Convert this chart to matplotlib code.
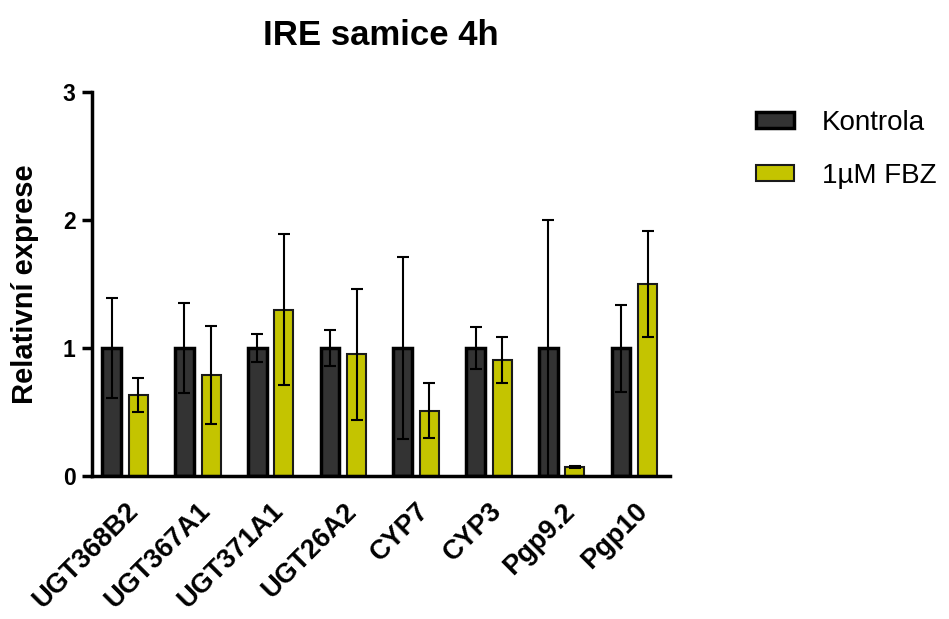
import numpy as np
import matplotlib
matplotlib.use("Agg")
import matplotlib.pyplot as plt

plt.rcParams['font.family'] = ['Liberation Sans', 'DejaVu Sans']

genes = ["UGT368B2", "UGT367A1", "UGT371A1", "UGT26A2", "CYP7", "CYP3", "Pgp9.2", "Pgp10"]
kontrola = [1.0, 1.0, 1.0, 1.0, 1.0, 1.0, 1.0, 1.0]
kontrola_err = [0.39, 0.35, 0.11, 0.14, 0.71, 0.165, 1.0, 0.34]
fbz = [0.635, 0.79, 1.30, 0.95, 0.51, 0.905, 0.07, 1.50]
fbz_err = [0.135, 0.38, 0.59, 0.51, 0.215, 0.18, 0.005, 0.415]

C_KONTROLA = "#333333"
C_FBZ = "#c4c400"

fig = plt.figure(figsize=(9.49, 6.19), dpi=100)
ax = fig.add_axes([0.097, 0.231, 0.609, 0.62])

x = np.arange(len(genes))
off = 0.183
w = 0.26
err_kw = dict(ecolor="black", elinewidth=1.5, capsize=4, capthick=1.5)

ax.bar(x - off, kontrola, w, color=C_KONTROLA, edgecolor="black", linewidth=2.5,
       yerr=kontrola_err, error_kw=err_kw, label="Kontrola")
ax.bar(x + off, fbz, w, color=C_FBZ, edgecolor="#1a1a1a", linewidth=1.5,
       yerr=fbz_err, error_kw=err_kw, label="1µM FBZ")

ax.set_xlim(-0.453, 7.49)
ax.set_ylim(0, 3)
ax.set_yticks([0, 1, 2, 3])
ax.set_xticks(x)
ax.set_xticklabels(genes, rotation=45, ha="right", rotation_mode="anchor",
                   fontsize=19.5, fontweight="bold")
for lab in ax.get_yticklabels():
    lab.set_fontsize(16.5)
    lab.set_fontweight("bold")
ax.tick_params(axis="x", length=0, pad=16)
ax.tick_params(axis="y", length=7, width=2.5, pad=5)

for s in ["top", "right"]:
    ax.spines[s].set_visible(False)
for s in ["left", "bottom"]:
    ax.spines[s].set_linewidth(2.5)

ax.set_ylabel("Relativní exprese", fontsize=21, fontweight="bold", labelpad=17)
ax.set_title("IRE samice 4h", fontsize=25, fontweight="bold", pad=34)

fig.legend(loc="upper left", bbox_to_anchor=(0.797, 0.822), frameon=False,
           fontsize=20, handlelength=1.37, handleheight=0.5, handletextpad=1.0,
           labelspacing=0.95, borderpad=0, borderaxespad=0)

fig.savefig("out.png", dpi=100)
